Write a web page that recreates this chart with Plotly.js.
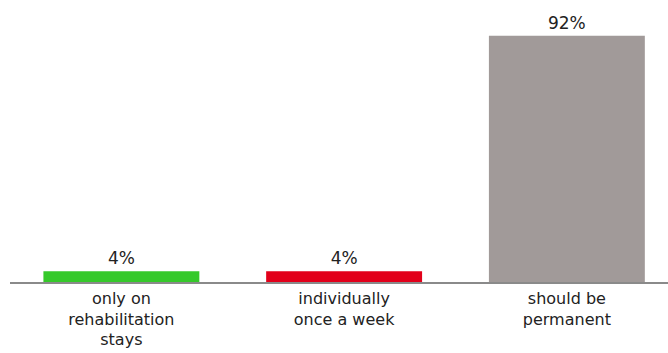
<!DOCTYPE html>
<html>
<head>
<meta charset="utf-8">
<script src="https://cdn.plot.ly/plotly-3.0.1.min.js"></script>
<style>
  html, body { margin: 0; padding: 0; background: #fff; }
  #chart { width: 668px; height: 353px; }
</style>
</head>
<body>
<div id="chart"></div>
<script>
// Survey answers: how often the activity should take place
const categories = ['only on<br>rehabilitation<br>stays', 'individually<br>once a week', 'should be<br>permanent'];
const shares = [4, 4, 92];
const barColors = ['#35c92a', '#e2001a', '#a19a99'];

const labelFont = '"DejaVu Sans", Inter, sans-serif';

const trace = {
  type: 'bar',
  x: [0, 1, 2],
  y: shares,
  width: 0.7,
  marker: { color: barColors },
  text: shares.map(v => v + '%'),
  textposition: 'outside',
  cliponaxis: false,
  textfont: { family: labelFont, size: 17, color: '#222' },
  hoverinfo: 'none'
};

const layout = {
  width: 668,
  height: 353,
  margin: { l: 10, r: 0, t: 10, b: 71 },
  paper_bgcolor: '#ffffff',
  plot_bgcolor: '#ffffff',
  showlegend: false,
  xaxis: {
    range: [-0.5, 2.454],
    tickvals: [0, 1, 2],
    ticktext: categories,
    showline: true,
    linecolor: '#8a8a8a',
    linewidth: 1.5,
    showgrid: false,
    zeroline: false,
    ticks: 'outside',
    ticklen: 1,
    tickcolor: 'rgba(0,0,0,0)',
    tickfont: { family: labelFont, size: 16, color: '#222' }
  },
  yaxis: {
    range: [0, 101.6],
    visible: false,
    showgrid: false,
    zeroline: false
  }
};

Plotly.newPlot('chart', [trace], layout, { displayModeBar: false, staticPlot: true });
</script>
</body>
</html>
